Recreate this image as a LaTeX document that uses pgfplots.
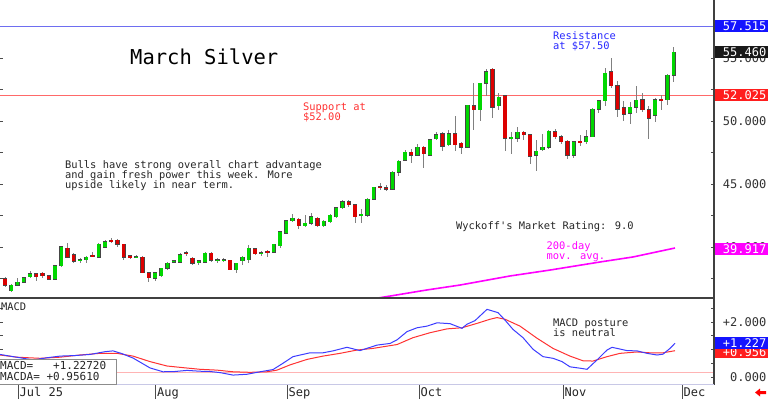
\documentclass[border=0pt]{standalone}
\usepackage{fontspec}
\setmainfont{DejaVu Sans Mono}
\usepackage{pgfplots}
\usepackage{pgfplotstable}
\pgfplotsset{compat=1.18}
\definecolor{cgreen}{RGB}{0,215,0}
\definecolor{cred}{RGB}{220,0,0}
\definecolor{cwick}{RGB}{128,128,128}
\definecolor{cedge}{RGB}{70,70,70}
\definecolor{resblue}{RGB}{110,110,240}
\definecolor{suppink}{RGB}{255,105,105}
\definecolor{txtred}{RGB}{255,50,50}
\definecolor{txtblue}{RGB}{40,40,255}
\definecolor{magenta2}{RGB}{255,0,255}
\definecolor{boxblue}{RGB}{20,20,255}
\definecolor{boxred}{RGB}{255,30,30}
\definecolor{boxblack}{RGB}{25,25,25}
\definecolor{macdblue}{RGB}{60,60,255}
\definecolor{macdred}{RGB}{255,50,50}
\definecolor{zeropink}{RGB}{255,180,180}
\definecolor{framec}{RGB}{64,64,64}
\definecolor{lav}{RGB}{200,200,230}

\pgfplotstableread{
i o h l c
1 36.51 37.05 36.40 36.98
2 36.98 37.50 36.90 37.22
3 37.22 37.60 37.15 37.54
4 37.62 38.10 37.50 37.86
8 37.44 38.55 37.40 38.52
9 38.52 40.10 38.45 40.02
12 38.92 39.10 38.70 38.98
13 39.00 39.30 38.75 39.20
15 39.20 40.30 39.15 40.20
16 40.00 40.55 39.90 40.40
21 39.18 39.35 39.10 39.22
24 37.50 38.00 37.30 37.95
25 37.70 38.35 37.60 38.30
26 38.30 38.80 38.20 38.70
27 38.80 39.00 38.70 38.90
28 38.80 39.50 38.75 39.40
31 38.75 38.95 38.60 38.90
32 38.80 39.60 38.70 39.50
34 38.93 39.10 38.70 38.97
35 38.93 39.10 38.80 38.97
37 38.20 38.75 37.90 38.70
38 38.90 39.30 38.60 39.20
39 39.00 40.15 38.75 39.90
41 39.48 39.65 39.30 39.52
43 39.60 40.25 39.50 40.20
44 40.10 41.25 39.90 41.20
45 41.10 42.15 41.00 42.10
46 42.10 42.60 42.00 42.30
48 41.70 42.50 41.60 41.90
49 41.90 42.70 41.75 42.40
51 41.70 42.15 41.60 42.05
52 42.00 42.65 41.90 42.50
53 42.40 43.20 42.30 43.10
54 43.10 43.70 43.00 43.60
57 42.50 43.00 41.90 42.60
58 42.50 43.85 42.40 43.80
59 43.80 44.80 43.70 44.75
62 44.60 46.05 44.50 45.95
63 45.95 46.90 45.60 46.80
64 46.90 47.70 46.80 47.50
66 47.30 48.20 47.20 47.90
68 47.30 48.60 47.20 48.50
69 48.60 49.10 48.50 48.90
71 48.10 49.30 48.00 49.00
74 47.90 51.30 47.85 51.25
76 50.90 53.05 50.00 53.00
77 53.00 54.10 52.00 53.90
79 51.20 52.20 50.90 51.90
81 48.60 49.10 47.40 48.70
82 48.65 49.50 48.30 49.10
85 47.30 48.50 46.00 47.60
86 47.70 49.00 47.60 47.90
87 47.90 49.30 47.80 49.20
91 47.30 48.40 47.10 48.35
93 48.35 49.30 48.20 48.75
94 48.75 51.00 48.70 50.95
95 50.95 51.70 50.60 51.60
96 51.60 54.20 51.20 53.80
100 50.60 51.50 49.80 51.10
101 51.10 52.80 50.60 51.65
104 50.45 51.80 49.95 51.70
106 51.70 53.70 51.30 53.65
107 53.65 55.85 53.10 55.46
}\greentab

\pgfplotstableread{
i o h l c
0 37.46 37.60 36.80 36.98
5 37.86 37.95 37.30 37.62
6 37.90 38.00 37.50 37.70
7 37.70 37.75 37.35 37.45
10 39.90 40.30 39.10 39.20
11 39.40 39.50 38.70 38.85
14 39.32 39.60 39.20 39.28
17 40.52 40.75 40.30 40.48
18 40.55 40.60 40.00 40.20
19 40.20 40.25 39.00 39.20
20 39.30 39.35 39.05 39.15
22 39.20 39.25 37.90 37.95
23 37.95 38.00 37.20 37.55
29 39.52 39.70 39.30 39.48
30 39.10 39.20 38.60 38.70
33 39.50 39.60 38.80 38.95
36 38.95 39.00 38.15 38.20
40 39.85 39.90 39.40 39.45
42 39.62 39.80 39.20 39.58
47 42.20 42.30 41.40 41.70
50 42.30 42.40 41.60 41.70
55 43.60 43.75 43.20 43.35
56 43.35 43.40 41.90 42.40
60 44.77 45.05 44.50 44.70
61 44.70 44.95 44.45 44.60
65 47.50 47.80 46.70 47.30
67 47.90 48.00 46.25 47.40
70 49.00 49.10 47.60 48.00
72 49.00 50.40 47.60 48.10
73 48.25 48.30 47.40 47.90
75 51.20 53.00 49.30 50.90
78 54.10 54.20 50.20 51.10
80 52.00 52.10 47.60 48.65
83 49.10 49.20 48.50 48.90
84 48.90 49.00 46.60 47.20
88 49.15 49.40 48.60 48.75
89 48.75 48.85 48.20 48.35
90 48.40 48.50 47.00 47.30
92 48.37 48.90 48.00 48.33
97 53.90 55.00 52.60 52.80
98 52.80 53.20 50.30 50.95
99 51.05 51.60 50.00 50.55
102 51.70 52.20 50.70 50.90
103 50.90 51.20 48.60 50.20
105 51.72 52.05 50.85 51.68
}\redtab

\pgfplotsset{
  wick/.style={draw=none, no markers, forget plot,
    error bars/.cd, y dir=both, y explicit, error mark=none,
    error bar style={line width=1pt, draw=cwick, solid}},
  bodyout/.style={draw=none, no markers, forget plot,
    error bars/.cd, y dir=both, y explicit, error mark=none,
    error bar style={line width=4.3pt, draw=cedge, solid}},
  bodyin/.style={draw=none, no markers, forget plot,
    error bars/.cd, y dir=both, y explicit, error mark=none,
    error bar style={line width=3.2pt, draw=#1, solid}},
}

\begin{document}
\begin{tikzpicture}
\useasboundingbox (0pt,0pt) rectangle (768pt,399pt);
\fill[white] (0pt,0pt) rectangle (768pt,399pt);

% ---------------- main price panel ----------------
\begin{axis}[at={(0pt,101pt)}, anchor=south west, scale only axis,
  width=714pt, height=298pt,
  xmin=-0.8, xmax=113.44, ymin=35.952, ymax=59.603,
  axis line style={draw=none},
  xtick=\empty,
  ytick={40,45,50,55}, minor ytick={37.5,42.5,47.5,52.5,57.5},
  yticklabel pos=right,
  yticklabels={40.000,45.000,50.000,55.000},
  yticklabel style={font=\fontsize{12}{12}\selectfont, anchor=east, xshift=52.5pt, inner sep=0pt, text=black!80},
  tick align=inside, major tick length=3pt, minor tick length=3pt,
  tick style={draw=black!70, line width=0.6pt},
  clip mode=individual]
\addplot[color=resblue, line width=0.9pt, forget plot] coordinates {(-0.8,57.515) (113.44,57.515)};
\addplot[color=suppink, line width=1.2pt, forget plot] coordinates {(-0.8,52.025) (113.44,52.025)};
\addplot[color=magenta2, line width=1.6pt, forget plot] coordinates {
(57,35.75) (59.7,35.95) (67.5,36.59) (72.8,36.98) (80.8,37.70) (87.2,38.17) (95.2,38.81) (100.5,39.21) (107.2,39.92)};
\addplot[wick] table[x=i, y expr={(\thisrow{h}+\thisrow{l})/2}, y error expr={(\thisrow{h}-\thisrow{l})/2}] {\greentab};
\addplot[wick] table[x=i, y expr={(\thisrow{h}+\thisrow{l})/2}, y error expr={(\thisrow{h}-\thisrow{l})/2}] {\redtab};
\addplot[bodyout] table[x=i, y expr={(\thisrow{o}+\thisrow{c})/2}, y error expr={max(abs(\thisrow{c}-\thisrow{o})/2,0.045)+0.04}] {\greentab};
\addplot[bodyin=cgreen] table[x=i, y expr={(\thisrow{o}+\thisrow{c})/2}, y error expr={max(abs(\thisrow{c}-\thisrow{o})/2,0.045)}] {\greentab};
\addplot[bodyout] table[x=i, y expr={(\thisrow{o}+\thisrow{c})/2}, y error expr={max(abs(\thisrow{c}-\thisrow{o})/2,0.045)+0.04}] {\redtab};
\addplot[bodyin=cred] table[x=i, y expr={(\thisrow{o}+\thisrow{c})/2}, y error expr={max(abs(\thisrow{c}-\thisrow{o})/2,0.045)}] {\redtab};
\end{axis}

% ---------------- MACD panel ----------------
\begin{axis}[at={(0pt,15pt)}, anchor=south west, scale only axis,
  width=714pt, height=86pt,
  xmin=0, xmax=714, ymin=-0.2545, ymax=2.8727,
  axis line style={draw=none},
  xtick=\empty,
  ytick={0,2}, minor ytick={0.5,1,1.5,2.5},
  yticklabel pos=right,
  yticklabels={0.000,+2.000},
  yticklabel style={font=\fontsize{12}{12}\selectfont, anchor=east, xshift=52.5pt, inner sep=0pt, text=black!80},
  tick align=inside, major tick length=3pt, minor tick length=3pt,
  tick style={draw=black!70, line width=0.6pt},
  clip mode=individual]
\addplot[color=zeropink, line width=0.8pt, forget plot] coordinates {(0,0.18) (714,0.18)};
\addplot[color=macdred, line width=1pt, forget plot] coordinates {
(0,0.80) (17,0.72) (40,0.68) (60,0.72) (80,0.80) (100,0.86) (117,0.86) (133,0.76) (150,0.56) (167,0.40) (183,0.34) (200,0.28) (217,0.25) (233,0.19) (250,0.17) (267,0.19) (277,0.25) (290,0.44) (307,0.64) (323,0.76) (340,0.86) (357,0.98) (373,1.04) (390,1.14) (397,1.18) (413,1.43) (430,1.61) (447,1.75) (462,1.79) (477,1.95) (490,2.10) (497,2.16) (505,2.10) (520,1.85) (537,1.41) (553,1.04) (570,0.76) (583,0.59) (593,0.58) (607,0.74) (620,0.86) (637,0.91) (650,0.88) (663,0.88) (675,0.956)};
\addplot[color=macdblue, line width=1pt, forget plot] coordinates {
(0,0.82) (10,0.76) (20,0.70) (33,0.62) (47,0.70) (60,0.76) (75,0.78) (90,0.82) (105,0.92) (113,0.95) (122,0.85) (133,0.69) (142,0.50) (150,0.33) (163,0.19) (175,0.20) (187,0.24) (200,0.21) (210,0.20) (220,0.16) (233,0.07) (247,0.10) (260,0.19) (273,0.27) (283,0.50) (293,0.74) (310,0.88) (323,0.88) (333,0.95) (347,1.08) (360,0.96) (377,1.16) (390,1.22) (397,1.35) (407,1.65) (417,1.79) (427,1.85) (437,1.97) (450,1.94) (462,1.77) (467,1.92) (475,2.05) (487,2.46) (498,2.34) (505,2.07) (513,1.73) (523,1.43) (533,1.01) (543,0.74) (553,0.68) (562,0.56) (570,0.37) (580,0.32) (587,0.28) (597,0.62) (607,0.98) (612,1.08) (617,1.04) (627,0.96) (637,0.95) (647,0.86) (657,0.80) (663,0.83) (670,1.04) (675,1.227)};
\end{axis}

% ---------------- frames ----------------
\draw[framec, line width=1.8pt] (0pt,101pt) -- (714pt,101pt);
\draw[framec, line width=1.2pt] (714pt,399pt) -- (714pt,14pt);
\draw[lav, line width=1pt] (0pt,14.5pt) -- (714pt,14.5pt);
\foreach \xx in {18,155,287,419,563,682} \draw[black!70, line width=0.8pt] (\xx pt,0pt) -- (\xx pt,14pt);

% ---------------- date labels ----------------
\begin{scope}[every node/.style={font=\fontsize{12}{12}\selectfont, anchor=base west, inner sep=0pt, text=black!85}]
\node at (19.5pt,3pt) {Jul 25};
\node at (157pt,3pt) {Aug};
\node at (288.5pt,3pt) {Sep};
\node at (420.5pt,3pt) {Oct};
\node at (564.5pt,3pt) {Nov};
\node at (683.5pt,3pt) {Dec};
\end{scope}
\fill[red] (755pt,6.5pt) -- (760pt,10.5pt) -- (760pt,8pt) -- (766pt,8pt) -- (766pt,5pt) -- (760pt,5pt) -- (760pt,2.5pt) -- cycle;

% ---------------- right value boxes ----------------
\begin{scope}[every node/.style={font=\fontsize{12}{12}\selectfont, anchor=east, inner sep=0pt, text=white}]
\fill[boxblue] (715pt,366.5pt) rectangle (768pt,378.5pt);
\node at (766.5pt,372.5pt) {57.515};
\fill[boxblack] (715pt,340.5pt) rectangle (768pt,352.5pt);
\node at (766.5pt,346.5pt) {55.460};
\fill[boxred] (715pt,297.5pt) rectangle (768pt,309.5pt);
\node at (766.5pt,303.5pt) {52.025};
\fill[magenta2] (715pt,144pt) rectangle (768pt,156pt);
\node at (766.5pt,150pt) {39.917};
\fill[boxred] (714.5pt,41.5pt) rectangle (768pt,53pt);
\node at (766.5pt,47pt) {+0.956};
\fill[boxblue] (714.5pt,50pt) rectangle (768pt,62pt);
\node at (766.5pt,56pt) {+1.227};
\end{scope}

% ---------------- annotations ----------------
\node[font=\fontsize{20.5}{20.5}\selectfont, anchor=base west, inner sep=0pt] at (130pt,334pt) {March Silver};
\begin{scope}[every node/.style={font=\fontsize{10.4}{10.4}\selectfont, anchor=base west, inner sep=0pt}]
\node[text=black!85] at (65pt,230.7pt) {Bulls have strong overall chart advantage};
\node[text=black!85] at (65pt,220.5pt) {and gain fresh power this week. More};
\node[text=black!85] at (65pt,210.3pt) {upside likely in near term.};
\node[text=txtred] at (303pt,288.3pt) {Support at};
\node[text=txtred] at (303pt,278.3pt) {\$52.00};
\node[text=txtblue] at (553pt,359.7pt) {Resistance};
\node[text=txtblue] at (553pt,349.3pt) {at \$57.50};
\node[text=black!85] at (456pt,169.5pt) {Wyckoff\textquotesingle s Market Rating: 9.0};
\node[text=magenta2] at (546.5pt,149.5pt) {200-day};
\node[text=magenta2] at (546.5pt,139.5pt) {mov. avg.};
\node[text=black!85] at (553pt,73pt) {MACD posture};
\node[text=black!85] at (553pt,62.5pt) {is neutral};
\node[text=black!85] at (1pt,88.3pt) {MACD};
\end{scope}
\draw[black!45, fill=white, line width=0.8pt] (-1pt,15pt) rectangle (116.5pt,40pt);
\begin{scope}[every node/.style={font=\fontsize{11}{11}\selectfont, anchor=base west, inner sep=0pt, text=black!85}]
\node at (0pt,29.7pt) {MACD=\ \ \ +1.22720};
\node at (0pt,19pt) {MACDA= +0.95610};
\end{scope}
\end{tikzpicture}
\end{document}
